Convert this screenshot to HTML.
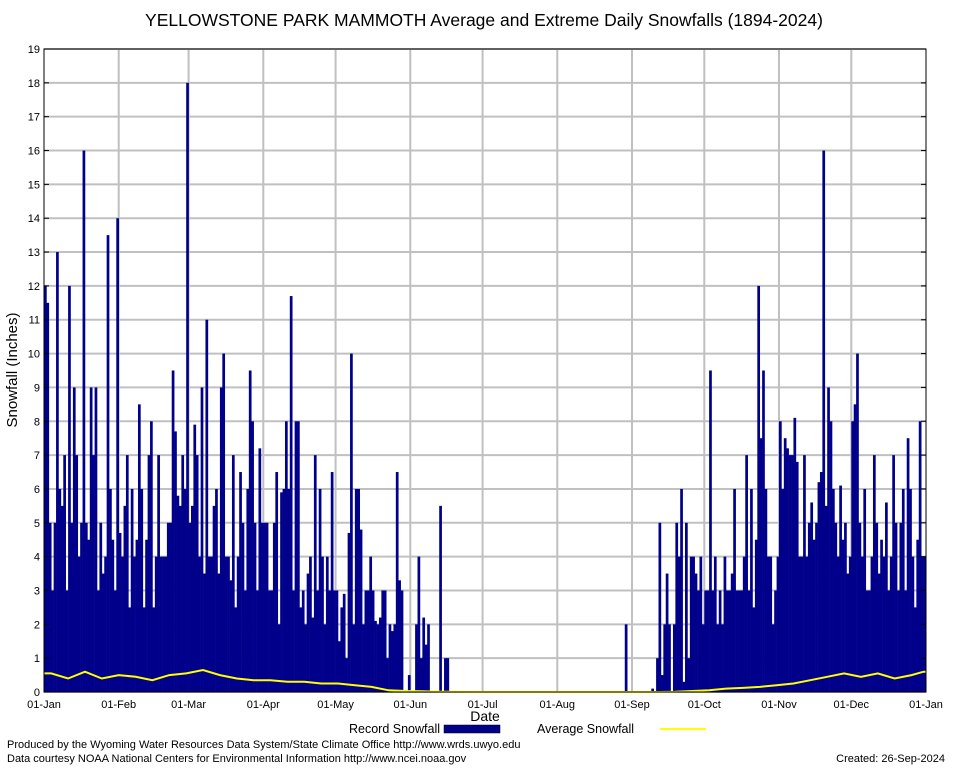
<!DOCTYPE html>
<html><head><meta charset="utf-8"><style>
body{margin:0;background:#fff;font-family:"Liberation Sans",sans-serif}
svg{display:block}
</style></head><body>
<svg id="chart" width="954" height="768" xmlns="http://www.w3.org/2000/svg">
<text x="484" y="26" text-anchor="middle" font-size="17.5" fill="#000">YELLOWSTONE PARK MAMMOTH Average and Extreme Daily Snowfalls (1894-2024)</text>
<g id="grid"></g>
<g id="bars"></g>
<polyline id="avgline" fill="none" stroke="#ffff00" stroke-width="2"/>
<rect x="44" y="49" width="882" height="643" fill="none" stroke="#000" stroke-width="1"/>
<g id="axes" font-size="11" fill="#000"></g>
<text x="17" y="370" transform="rotate(-90 17 370)" text-anchor="middle" font-size="15">Snowfall (Inches)</text>
<text x="485" y="721" text-anchor="middle" font-size="14">Date</text>
<g>
<text x="440" y="733" text-anchor="end" font-size="12.5">Record Snowfall</text>
<rect x="444" y="725" width="56" height="8" fill="#00008b" stroke="#000" stroke-width="0.5"/>
</g>
<g>
<text x="537" y="733" font-size="12.5">Average Snowfall</text>
<line x1="660" y1="729" x2="706" y2="729" stroke="#ffff00" stroke-width="2"/>
</g>
<text x="7" y="748" font-size="11">Produced by the Wyoming Water Resources Data System/State Climate Office http://www.wrds.uwyo.edu</text>
<text x="7" y="762" font-size="11">Data courtesy NOAA National Centers for Environmental Information http://www.ncei.noaa.gov</text>
<text x="945" y="762" text-anchor="end" font-size="11">Created:  26-Sep-2024</text>
</svg>
<script>
const monthLabels=["01-Jan","01-Feb","01-Mar","01-Apr","01-May","01-Jun","01-Jul","01-Aug","01-Sep","01-Oct","01-Nov","01-Dec","01-Jan"];
const monthDays=[31,29,31,30,31,30,31,31,30,31,30,31];
const yTicks=[0,1,2,3,4,5,6,7,8,9,10,11,12,13,14,15,16,17,18,19];
const recJan=[12,11.5,5,3,5,13,6,5.5,7,3,12,5,9,7,4,5,16,5,4.5,9,7,9,3,5,3.5,4,13.5,6,4.5,3,14];
const recFeb=[4.7,4,5.5,7,2.5,6,4,4.5,8.5,6,2.5,4.5,7,8,2.5,4,7,4,4,4,5,5,9.5,7.7,5.8,5.5,7,6,18];
const recMar=[5,5.5,7.9,7,4,9,3.5,11,4,4,5.5,6,3.5,9,10,4,4,3.3,7,2.5,4,6.5,5,3,6,9.5,8,5,3,7.2,5];
const recApr=[5,5,3,3,5,6.5,2,5.9,6,8,6,11.7,3,8,8,2.5,3,2,3.5,4,2.2,7,3,6,4,2,4,3,6.5,3];
const recMay=[3,1.5,2.5,2.9,1,4.7,10,2,6,6,4.8,2,3,3,4,3,2.1,2,2.2,3,3,1,2,1.8,2,6.5,3.3,3,0,0,0.5];
const recJun=[0,0,2,4,1,2.2,1.4,2,0,0,0,0,5.5,0,1,1,0,0,0,0,0,0,0,0,0,0,0,0,0,0];
const recJul=[0,0,0,0,0,0,0,0,0,0,0,0,0,0,0,0,0,0,0,0,0,0,0,0,0,0,0,0,0,0,0];
const recAug=[0,0,0,0,0,0,0,0,0,0,0,0,0,0,0,0,0,0,0,0,0,0,0,0,0,0,0,0,2,0,0];
const recSep=[0,0,0,0,0,0,0,0,0.1,0,1,5,0.5,2,3.5,2,0,2,5,4,6,0.3,5,1,4,4,3.5,3,4,2];
const recOct=[3,3,9.5,3,4,2,3,2,4,3,3,3.5,6,3,3,3,4,7,3,6,2.5,4.5,12,7.5,9.5,6,4,4,2,3,4];
const recNov=[8,6,7.5,7.2,7,7,8.1,6.8,4,4,7,4,5,5.6,4.5,5,6.2,6.5,16,5.5,9,8,6,5,4,6.1,4.5,5,3.5,4];
const recDec=[8,8.5,10,5,4,6,3,3,4,7,5,3.5,4.5,4,5.6,3,4,7,5,3,5,6,3,7.5,6,4,2.5,4.5,8,4,4];
const avgWeekly=[0.55,0.4,0.6,0.4,0.5,0.45,0.35,0.5,0.55,0.65,0.5,0.4,0.35,0.35,0.3,0.3,0.25,0.25,0.2,0.15,0.05,0.03,0.02,0.01,0.01,0,0,0,0,0,0,0,0,0,0,0,0,0.01,0.03,0.05,0.1,0.12,0.15,0.2,0.25,0.35,0.45,0.55,0.45,0.55,0.4,0.5,0.6];

const NS="http://www.w3.org/2000/svg";
const X0=44,X1=926,Y0=692,Y1=49,NDAYS=366,YMAX=19;
function xs(d){return X0+d*(X1-X0)/NDAYS;}
function ys(v){return Y0-v*(Y0-Y1)/YMAX;}
function mk(tag,attrs,parent){const e=document.createElementNS(NS,tag);for(const k in attrs)e.setAttribute(k,attrs[k]);parent.appendChild(e);return e;}
const grid=document.getElementById('grid'),axes=document.getElementById('axes'),bars=document.getElementById('bars');
yTicks.forEach(t=>{
  const l=mk('line',{x1:X0,x2:X1,y1:ys(t),y2:ys(t),stroke:'#c0c0c0','stroke-width':2},grid);
  
  
  const tx=mk('text',{x:X0-4,y:ys(t)+4,'text-anchor':'end'},axes);
  tx.textContent=t;
  
  
  mk('line',{x1:X1-5,x2:X1,y1:ys(t),y2:ys(t),stroke:'#000'},axes);
  mk('line',{x1:X0,x2:X0+5,y1:ys(t),y2:ys(t),stroke:'#000'},axes);
});
let cum=0;
monthLabels.forEach((m,i)=>{
  const x=xs(cum);
  if(i>0&&i<12){const l=mk('line',{x1:x,x2:x,y1:Y1,y2:Y0,stroke:'#c0c0c0','stroke-width':2},grid);
  
  }
  const tx=mk('text',{x:x,y:708,'text-anchor':'middle'},axes);
  tx.textContent=m;
  
  
  if(i<12)cum+=monthDays[i];
});
const rec=[].concat(recJan,recFeb,recMar,recApr,recMay,recJun,recJul,recAug,recSep,recOct,recNov,recDec);
rec.forEach((v,d)=>{
  if(v<=0)return;
  const r=mk('rect',{x:xs(d),y:ys(v),width:xs(d+1)-xs(d)+0.3,height:Y0-ys(v),fill:'#00008b'},bars);
  
  
});
const pts=avgWeekly.map((v,i)=>xs(Math.min(i*7+3,365)).toFixed(1)+','+ys(v).toFixed(1));
pts.unshift(xs(0)+','+ys(avgWeekly[0]).toFixed(1));
pts.push(xs(366)+','+ys(avgWeekly[avgWeekly.length-1]).toFixed(1));
document.getElementById('avgline').setAttribute('points',pts.join(' '));
</script>
</body></html>
